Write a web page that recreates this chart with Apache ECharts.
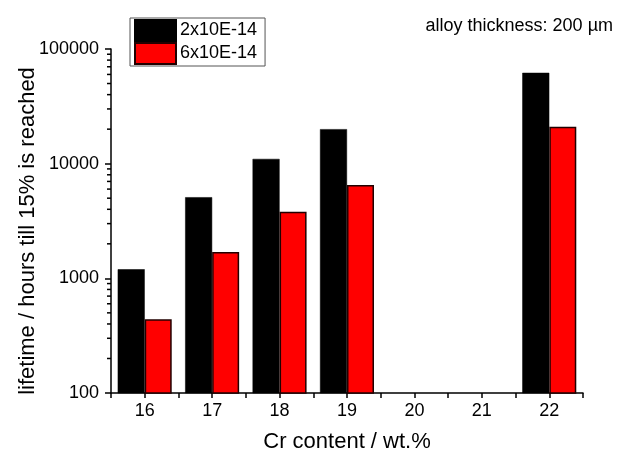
<!DOCTYPE html>
<html>
<head>
<meta charset="utf-8">
<script src="https://cdn.jsdelivr.net/npm/echarts@6/dist/echarts.min.js"></script>
<style>html,body{margin:0;padding:0;background:#fff}#c{width:621px;height:458px}</style>
</head>
<body>
<div id="c"></div>
<script>
var categories = [16, 17, 18, 19, 20, 21, 22];
var series1Name = '2x10E-14';
var series2Name = '6x10E-14';
var series1 = [1200, 5100, 11000, 20000, null, null, 62000];
var series2 = [440, 1700, 3800, 6500, null, null, 21000];
var yMajorTicks = [100, 1000, 10000, 100000];
var yMinorTicks = [200,300,400,500,600,700,800,900,2000,3000,4000,5000,6000,7000,8000,9000,20000,30000,40000,50000,60000,70000,80000,90000];

var FONT = '"Liberation Sans", Arial, sans-serif';
function pairs(vals) {
  var out = [];
  categories.forEach(function (c, i) { if (vals[i] != null) out.push([c, vals[i]]); });
  return out;
}
var chart = echarts.init(document.getElementById('c'), null, {renderer: 'canvas'});
chart.setOption({
  animation: false,
  backgroundColor: '#fff',
  textStyle: {fontFamily: FONT},
  grid: {left: 111, right: 38, top: 49, bottom: 65, containLabel: false, outerBoundsMode: 'none'},
  title: {
    text: 'alloy thickness: 200 \u00b5m',
    right: 3, top: 12,
    textStyle: {fontFamily: FONT, fontSize: 18, fontWeight: 'normal', color: '#000'}
  },
  legend: {
    orient: 'vertical',
    left: 130, top: 18,
    itemWidth: 41, itemHeight: 21, itemGap: 0,
    padding: [1, 8, 1, 4],
    borderColor: '#555', borderWidth: 1,
    icon: 'rect',
    textStyle: {fontFamily: FONT, fontSize: 18, color: '#000', padding: [0, 0, 0, -1]},
    data: [series1Name, series2Name]
  },
  xAxis: {
    type: 'value',
    min: 15.5, max: 22.5, interval: 0.5,
    name: 'Cr content / wt.%',
    nameLocation: 'middle', nameGap: 38, nameMoveOverlap: false,
    nameTextStyle: {fontFamily: FONT, fontSize: 22, color: '#000'},
    splitLine: {show: false},
    axisLine: {lineStyle: {color: '#000', width: 1.5}},
    axisTick: {length: 5, lineStyle: {color: '#000', width: 1.5}},
    axisLabel: {
      margin: 9, fontFamily: FONT, fontSize: 18, color: '#000',
      formatter: function (v) { return Math.abs(v - Math.round(v)) < 1e-6 && categories.indexOf(Math.round(v)) >= 0 ? String(Math.round(v)) : ''; }
    }
  },
  yAxis: {
    type: 'log', logBase: 10,
    min: yMajorTicks[0], max: yMajorTicks[yMajorTicks.length - 1],
    name: 'lifetime / hours till 15% is reached',
    nameLocation: 'middle', nameGap: 72, nameRotate: 90, nameMoveOverlap: false,
    nameTextStyle: {fontFamily: FONT, fontSize: 22, color: '#000', padding: [0, 20, 0, 0]},
    splitLine: {show: false},
    axisLine: {show: true, lineStyle: {color: '#000', width: 1.5}},
    axisTick: {show: true, length: 6, lineStyle: {color: '#000', width: 1.5}},
    axisLabel: {margin: 12, fontFamily: FONT, fontSize: 18, color: '#000',
      formatter: function (v) { return String(Math.round(v)); }}
  },
  series: [
    {
      name: series1Name, type: 'bar', barWidth: 27, barGap: '0%',
      itemStyle: {color: '#000', borderColor: '#000', borderWidth: 0.5},
      data: pairs(series1)
    },
    {
      name: series2Name, type: 'bar', barWidth: 27, barGap: '0%',
      itemStyle: {color: '#ff0000', borderColor: '#220000', borderWidth: 1.5},
      data: pairs(series2)
    },
    {
      type: 'custom', silent: true, clip: false, legendHoverLink: false,
      data: yMinorTicks.map(function (v) { return [15.5, v]; }),
      renderItem: function (params, api) {
        var p = api.coord([api.value(0), api.value(1)]);
        return {type: 'line', shape: {x1: p[0] - 4, y1: p[1], x2: p[0], y2: p[1]}, style: {stroke: '#000', lineWidth: 1.5}};
      },
      z: 5
    }
  ]
});
</script>
</body>
</html>
